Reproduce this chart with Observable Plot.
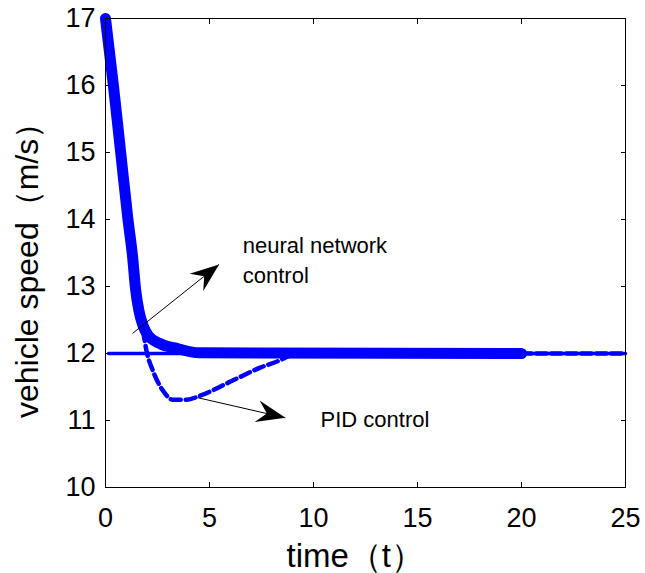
<!DOCTYPE html>
<html><head><meta charset="utf-8">
<script src="https://cdn.jsdelivr.net/npm/d3@7"></script>
<script src="https://cdn.jsdelivr.net/npm/@observablehq/plot@0.6"></script>
<style>body{margin:0;background:#fff} svg{display:block}</style>
</head><body><div id="chart"></div>
<script>
// ---- data ----
const nnTime  = [0, 0.38, 0.73, 1.08, 1.3, 1.45, 1.6, 1.8, 2.05, 2.6, 3.5, 4.5, 20];
const nnSpeed = [17.0, 16.0, 15.0, 14.0, 13.45, 12.95, 12.65, 12.42, 12.27, 12.15, 12.07, 12.01, 12.0];

const pidTime  = [0, 0.38, 0.73, 1.08, 1.3, 1.45, 1.6, 1.8, 1.97, 2.27, 2.75, 3.24, 3.91, 4.54, 6.14, 7.44, 8.4, 8.9, 9.9, 25];
const pidSpeed = [17.0, 16.0, 15.0, 14.0, 13.45, 12.95, 12.65, 12.35, 12.04, 11.75, 11.45, 11.31, 11.31, 11.37, 11.6, 11.79, 11.9, 11.97, 12.0, 12.0];

const refTime  = [0.15, 25];
const refSpeed = [12, 12];

const xTicks = [0, 5, 10, 15, 20, 25];
const yTicks = [10, 11, 12, 13, 14, 15, 16, 17];

const annText = ["neural network", "control", "PID control"];
const annX    = [6.6, 6.6, 10.34];
const annY    = [13.61, 13.16, 11.01];

const arrowX1 = [1.3, 4.44];
const arrowY1 = [12.3, 11.34];
const arrowX2 = [5.46, 8.65];
const arrowY2 = [13.33, 11.04];

const xLabel = "time（t）";
const yLabel = "vehicle speed（m/s）";

// ---- layout ----
const W = 645, H = 573, mL = 105, mR = 20, mT = 18, mB = 86;
const xDomain = [0, 25], yDomain = [10, 17];
const kx = (W - mL - mR) / (xDomain[1] - xDomain[0]);
const ky = (H - mT - mB) / (yDomain[1] - yDomain[0]);
const blue = "#0000ff";
const font = "'Liberation Sans', Arial, sans-serif";

const nnRows = nnTime.map((t, i) => ({t, v: nnSpeed[i]}));
const pidRows = pidTime.map((t, i) => ({t, v: pidSpeed[i]}));
const refRows = refTime.map((t, i) => ({t, v: refSpeed[i]}));
const annRows = annText.map((s, i) => ({s, t: annX[i], v: annY[i]}));
const arrowRows = arrowX1.map((x1, i) => ({
  x1, y1: arrowY1[i], x2: arrowX2[i], y2: arrowY2[i],
  angle: Math.atan2(-(arrowY2[i] - arrowY1[i]) * ky, (arrowX2[i] - x1) * kx) * 180 / Math.PI
}));

const headSymbol = {
  draw(context) {
    context.moveTo(0, 0);
    context.lineTo(-29, -11);
    context.lineTo(-19, 0);
    context.lineTo(-29, 11);
    context.closePath();
  }
};

const intFmt = d => String(d);

const chart = Plot.plot({
  width: W, height: H,
  marginLeft: mL, marginRight: mR, marginTop: mT, marginBottom: mB,
  x: {domain: xDomain, label: null},
  y: {domain: yDomain, label: null},
  style: {fontFamily: font, background: "white", color: "black"},
  marks: [
    Plot.line(refRows, {x: "t", y: "v", stroke: blue, strokeWidth: 3.5}),
    Plot.line(pidRows, {x: "t", y: "v", stroke: blue, strokeWidth: 4.5, strokeDasharray: "10,5", curve: "monotone-x"}),
    Plot.line(nnRows, {x: "t", y: "v", stroke: blue, strokeWidth: 11, strokeLinecap: "round", strokeLinejoin: "round", curve: "monotone-x"}),
    Plot.link(arrowRows, {x1: "x1", y1: "y1", x2: "x2", y2: "y2", stroke: "black", strokeWidth: 1}),
    Plot.dot(arrowRows, {x: "x2", y: "y2", symbol: headSymbol, rotate: "angle", fill: "black", stroke: null}),
    Plot.text(annRows, {x: "t", y: "v", text: "s", textAnchor: "start", lineAnchor: "middle", fontSize: 22, fill: "black"}),
    Plot.frame({stroke: "black", strokeWidth: 1}),
    Plot.axisX(xTicks, {anchor: "bottom", tickSize: -5, tickPadding: 25, fontSize: 27, tickFormat: intFmt, label: null}),
    Plot.axisX(xTicks, {anchor: "top", tickSize: -5, tickFormat: () => "", label: null}),
    Plot.axisY(yTicks, {anchor: "left", tickSize: -5, tickPadding: 15, fontSize: 27, tickFormat: intFmt, label: null}),
    Plot.axisY(yTicks, {anchor: "right", tickSize: -5, tickFormat: () => "", label: null}),
    Plot.text([xLabel], {frameAnchor: "bottom", dx: -79, dy: 69, textAnchor: "start", lineAnchor: "middle", fontSize: 33, fill: "black"}),
    Plot.text([yLabel], {frameAnchor: "left", dx: -78, dy: 165, rotate: -90, textAnchor: "start", lineAnchor: "middle", fontSize: 32, fill: "black"})
  ]
});
document.getElementById("chart").appendChild(chart);
</script>
</body></html>
